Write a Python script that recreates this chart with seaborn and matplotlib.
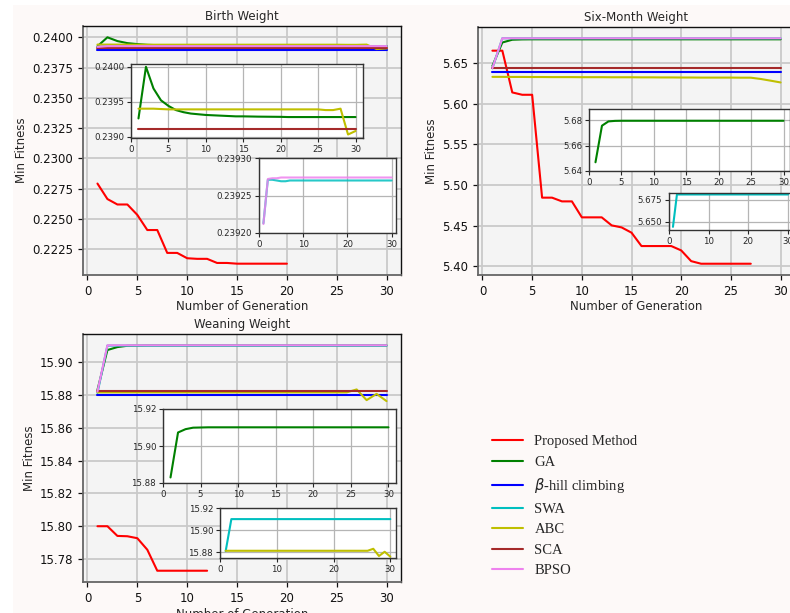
import numpy as np
import pandas as pd
import matplotlib
matplotlib.use("Agg")
import matplotlib.pyplot as plt
from matplotlib.patches import Rectangle
from matplotlib.ticker import FormatStrFormatter
import seaborn as sns

# ---------------- data ----------------
methods = ["Proposed Method", "GA", r"$\beta$-hill climbing", "SWA", "ABC", "SCA", "BPSO"]
colors = ["red", "green", "blue", "c", "y", "brown", "violet"]
generations = list(range(1, 31))

# Birth weight
bw_proposed = [0.22792, 0.22664, 0.22619, 0.22619, 0.22533, 0.22408, 0.22408, 0.22219, 0.22219, 0.22175,
               0.22170, 0.22170, 0.22136, 0.22136, 0.22130, 0.22130, 0.22130, 0.22130, 0.22130, 0.22130]
bw_ga = [0.23926, 0.24000, 0.23969, 0.23952, 0.23944, 0.23938, 0.23935, 0.23933, 0.23932, 0.23931,
         0.239305, 0.23930, 0.239295, 0.23929, 0.23929, 0.239288, 0.239286, 0.239285, 0.239284, 0.239283,
         0.23928, 0.23928, 0.23928, 0.23928, 0.23928, 0.23928, 0.23928, 0.23928, 0.23928, 0.23928]
bw_bhc = [0.23894] * 30
bw_swa = [0.239213, 0.239271, 0.239271, 0.239270, 0.239269, 0.239269, 0.239270, 0.239270, 0.239270, 0.239270,
          0.239270, 0.239270, 0.239270, 0.239270, 0.239270, 0.239270, 0.239270, 0.239270, 0.239270, 0.239270,
          0.239270, 0.239270, 0.239270, 0.239270, 0.239270, 0.239270, 0.239270, 0.239270, 0.239270, 0.239270]
bw_abc = [0.23940, 0.23940, 0.23940, 0.239395, 0.23939, 0.23939, 0.23939, 0.23939, 0.23939, 0.23939,
          0.23939, 0.23939, 0.23939, 0.23939, 0.23939, 0.23939, 0.23939, 0.23939, 0.23939, 0.23939,
          0.23939, 0.23939, 0.23939, 0.23939, 0.23939, 0.23938, 0.23938, 0.23940, 0.23903, 0.23908]
bw_sca = [0.23911] * 30
bw_bpso = [0.239212, 0.239272, 0.239273, 0.239273, 0.239274, 0.239274, 0.239274, 0.239274, 0.239274, 0.239274,
           0.239274, 0.239274, 0.239274, 0.239274, 0.239274, 0.239274, 0.239274, 0.239274, 0.239274, 0.239274,
           0.239274, 0.239274, 0.239274, 0.239274, 0.239274, 0.239274, 0.239274, 0.239274, 0.239274, 0.239274]

# Six-month weight
sm_proposed = [5.6657, 5.6657, 5.6142, 5.6113, 5.6113, 5.4844, 5.4844, 5.4798, 5.4798, 5.4601,
               5.4601, 5.4601, 5.4502, 5.4477, 5.4412, 5.4247, 5.4247, 5.4247, 5.4247, 5.4193,
               5.4061, 5.4029, 5.4029, 5.4029, 5.4029, 5.4029, 5.4029]
sm_ga = [5.6469, 5.6758, 5.6792, 5.6796, 5.6797, 5.6797, 5.6797, 5.6797, 5.6797, 5.6797,
         5.6797, 5.6797, 5.6797, 5.6797, 5.6797, 5.6797, 5.6797, 5.6797, 5.6797, 5.6797,
         5.6797, 5.6797, 5.6797, 5.6797, 5.6797, 5.6797, 5.6797, 5.6797, 5.6797, 5.6797]
sm_bhc = [5.6392] * 30
sm_swa = [5.6440] + [5.6810] * 29
sm_abc = [5.6334, 5.6334, 5.6333, 5.6333, 5.6332, 5.6332, 5.6331, 5.6331, 5.6331, 5.6330,
          5.6330, 5.6330, 5.6329, 5.6329, 5.6329, 5.6328, 5.6328, 5.6327, 5.6327, 5.6326,
          5.6326, 5.6325, 5.6325, 5.6325, 5.6325, 5.6324, 5.6324, 5.6308, 5.6287, 5.6265]
sm_sca = [5.6438] * 30
sm_bpso = [5.6442] + [5.6810] * 29

# Weaning weight
ww_proposed = [15.8000, 15.8000, 15.7941, 15.7939, 15.7927, 15.7857, 15.7729, 15.7729, 15.7729, 15.7729,
               15.7729, 15.7729]
ww_ga = [15.8830, 15.9073, 15.9091, 15.9099, 15.9100] + [15.9101] * 25
ww_bhc = [15.8802] * 30
ww_swa = [15.8812] + [15.9100] * 29
ww_abc = [15.8815] * 26 + [15.8833, 15.8768, 15.8806, 15.8762]
ww_sca = [15.8821] * 30
ww_bpso = [15.8820] + [15.9102] * 29

# ---------------- style ----------------
sns.set_style("white")
plt.rcParams["font.family"] = ["DejaVu Sans"]
plt.rcParams["mathtext.fontset"] = "dejavusans"

W, H = 790, 613
fig = plt.figure(figsize=(W / 100, H / 100), dpi=100)
fig.patch.set_facecolor("#fdf9f8")
fig.patches.append(Rectangle((0, 0), 13 / W, 1, transform=fig.transFigure, facecolor="white",
                             edgecolor="none", zorder=-10))
fig.patches.append(Rectangle((0, 1 - 5 / H), 1, 5 / H, transform=fig.transFigure, facecolor="white",
                             edgecolor="none", zorder=-10))


def box(l, r, t, b):
    return [l / W, 1 - b / H, (r - l) / W, (b - t) / H]


def style_main(ax, title):
    ax.set_facecolor("#f4f4f4")
    ax.grid(True, color="#c9c9c9", lw=1.3)
    ax.set_axisbelow(True)
    for s in ["top", "right"]:
        ax.spines[s].set_color("#111111")
        ax.spines[s].set_linewidth(1.0)
    for s in ["left", "bottom"]:
        ax.spines[s].set_color("#666666")
        ax.spines[s].set_linewidth(1.3)
    ax.tick_params(axis="both", labelsize=8.5, length=3.5, width=0.9, colors="#111111",
                   direction="out", left=True, bottom=True)
    ax.set_title(title, fontsize=8.5, pad=4)
    ax.set_xlabel("Number of Generation", fontsize=8.5, labelpad=2)
    ax.set_ylabel("Min Fitness", fontsize=8.5, labelpad=3)
    ax.set_xticks([0, 5, 10, 15, 20, 25, 30])


def style_inset(ax):
    ax.set_facecolor("white")
    ax.grid(True, color="#b5b5b5", lw=0.9)
    ax.set_axisbelow(True)
    for s in ax.spines.values():
        s.set_color("#333333")
        s.set_linewidth(1.0)
    ax.tick_params(axis="both", labelsize=6.2, length=3, width=0.8, direction="out",
                   left=True, bottom=True, pad=2)
    ax.set_xlim(0, 31)
    ax.set_xlabel("")
    ax.set_ylabel("")


def draw(ax, series, idx, lw=1.5, alpha=1.0):
    for i in idx:
        y = series[i]
        sns.lineplot(x=generations[:len(y)], y=y, ax=ax, color=colors[i], lw=lw,
                     alpha=alpha, label=methods[i] if ax is ax_bw else None, legend=False)


# ---------------- Birth Weight ----------------
bw = [bw_proposed, bw_ga, bw_bhc, bw_swa, bw_abc, bw_sca, bw_bpso]
ax_bw = fig.add_axes(box(83, 401, 26, 275))
draw(ax_bw, bw, range(7))
style_main(ax_bw, "Birth Weight")
ax_bw.set_yticks([0.2225, 0.2250, 0.2275, 0.2300, 0.2325, 0.2350, 0.2375, 0.2400])
ax_bw.yaxis.set_major_formatter(FormatStrFormatter("%.4f"))

ib1 = fig.add_axes(box(131, 363, 64, 138))
draw(ib1, bw, [1, 4, 5])
style_inset(ib1)
ib1.set_ylim(0.23898, 0.24004)
ib1.set_yticks([0.2390, 0.2395, 0.2400])
ib1.yaxis.set_major_formatter(FormatStrFormatter("%.4f"))
ib1.set_xticks([0, 5, 10, 15, 20, 25, 30])

ib2 = fig.add_axes(box(259, 396, 158, 233))
draw(ib2, bw, [3, 6], alpha=0.85)
style_inset(ib2)
ib2.set_ylim(0.23920, 0.23930)
ib2.set_yticks([0.23920, 0.23925, 0.23930])
ib2.yaxis.set_major_formatter(FormatStrFormatter("%.5f"))
ib2.set_xticks([0, 10, 20, 30])

# ---------------- Six-Month Weight ----------------
sm = [sm_proposed, sm_ga, sm_bhc, sm_swa, sm_abc, sm_sca, sm_bpso]
ax_sm = fig.add_axes(box(478, 795, 27, 275))
draw(ax_sm, sm, range(7))
style_main(ax_sm, "Six-Month Weight")
ax_sm.set_yticks([5.40, 5.45, 5.50, 5.55, 5.60, 5.65])
ax_sm.yaxis.set_major_formatter(FormatStrFormatter("%.2f"))

is1 = fig.add_axes(box(589, 790, 109, 171))
draw(is1, sm, [1])
style_inset(is1)
is1.set_ylim(5.64, 5.689)
is1.set_yticks([5.64, 5.66, 5.68])
is1.yaxis.set_major_formatter(FormatStrFormatter("%.2f"))
is1.set_xticks([0, 5, 10, 15, 20, 25, 30])

is2 = fig.add_axes(box(669, 792, 193, 230))
draw(is2, sm, [3])
style_inset(is2)
is2.set_ylim(5.6404, 5.6827)
is2.set_yticks([5.650, 5.675])
is2.yaxis.set_major_formatter(FormatStrFormatter("%.3f"))
is2.set_xticks([0, 10, 20, 30])

# ---------------- Weaning Weight ----------------
ww = [ww_proposed, ww_ga, ww_bhc, ww_swa, ww_abc, ww_sca, ww_bpso]
ax_ww = fig.add_axes(box(83, 401, 334, 582))
draw(ax_ww, ww, range(7))
style_main(ax_ww, "Weaning Weight")
ax_ww.set_yticks([15.78, 15.80, 15.82, 15.84, 15.86, 15.88, 15.90])
ax_ww.yaxis.set_major_formatter(FormatStrFormatter("%.2f"))

iw1 = fig.add_axes(box(163, 396, 409, 483))
draw(iw1, ww, [1])
style_inset(iw1)
iw1.set_ylim(15.88, 15.92)
iw1.set_yticks([15.88, 15.90, 15.92])
iw1.yaxis.set_major_formatter(FormatStrFormatter("%.2f"))
iw1.set_xticks([0, 5, 10, 15, 20, 25, 30])

iw2 = fig.add_axes(box(220, 396, 508, 558))
draw(iw2, ww, [3, 4])
style_inset(iw2)
iw2.set_ylim(15.875, 15.92)
iw2.set_yticks([15.88, 15.90, 15.92])
iw2.yaxis.set_major_formatter(FormatStrFormatter("%.2f"))
iw2.set_xticks([0, 10, 20, 30])

# ---------------- legend ----------------
handles = ax_bw.get_lines()[:7]
fig.legend(handles, methods, loc="upper left", bbox_to_anchor=((493 - 14) / W, 1 - 422 / H),
           frameon=False, prop={"family": "Liberation Serif", "size": 10.5},
           handlelength=2.1, handletextpad=0.8, labelspacing=0.5)

fig.savefig("out.png", dpi=100, facecolor=fig.get_facecolor())
